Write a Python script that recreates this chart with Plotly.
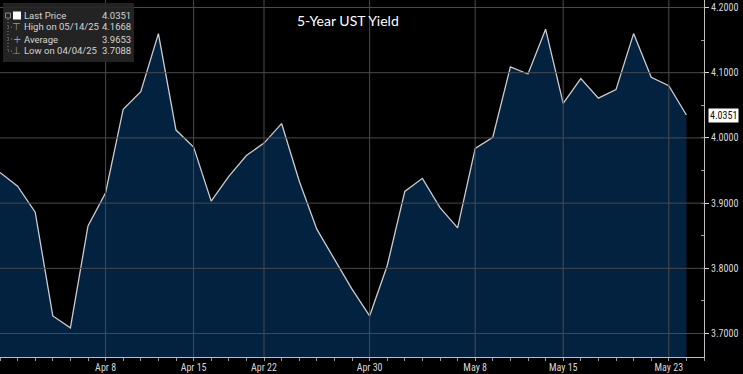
import plotly.graph_objects as go

# ---- data ----
dates = [
    "2025-03-31", "2025-04-01", "2025-04-02", "2025-04-03", "2025-04-04",
    "2025-04-07", "2025-04-08", "2025-04-09", "2025-04-10", "2025-04-11",
    "2025-04-14", "2025-04-15", "2025-04-16", "2025-04-17", "2025-04-21",
    "2025-04-22", "2025-04-23", "2025-04-24", "2025-04-25", "2025-04-28",
    "2025-04-29", "2025-04-30", "2025-05-01", "2025-05-02", "2025-05-05",
    "2025-05-06", "2025-05-07", "2025-05-08", "2025-05-09", "2025-05-12",
    "2025-05-13", "2025-05-14", "2025-05-15", "2025-05-16", "2025-05-19",
    "2025-05-20", "2025-05-21", "2025-05-22", "2025-05-23", "2025-05-27",
]
yields = [
    3.947, 3.926, 3.886, 3.727, 3.7088,
    3.865, 3.916, 4.044, 4.071, 4.160,
    4.012, 3.986, 3.903, 3.941, 3.973,
    3.992, 4.022, 3.934, 3.860, 3.814,
    3.768, 3.727, 3.804, 3.918, 3.938,
    3.893, 3.862, 3.984, 4.001, 4.109,
    4.098, 4.1668, 4.053, 4.091, 4.061,
    4.074, 4.160, 4.093, 4.080, 4.0351,
]
tick_dates = ["2025-04-08", "2025-04-15", "2025-04-22", "2025-04-30",
              "2025-05-08", "2025-05-15", "2025-05-23"]
tick_labels = ["Apr 8", "Apr 15", "Apr 22", "Apr 30", "May 8", "May 15", "May 23"]
y_ticks = [3.7, 3.8, 3.9, 4.0, 4.1, 4.2]

legend_labels = ["Last Price", "High on 05/14/25", "Average", "Low on 04/04/25"]
legend_values = ["4.0351", "4.1668", "3.9653", "3.7088"]
last_price = 4.0351
title_text = "5-Year UST Yield"

# ---- figure ----
W, H = 743, 374
ML, MR, MT, MB = 0, 39, 0, 17
PW, PH = W - ML - MR, H - MT - MB
X_RANGE = [0, 40]
Y_RANGE = [3.664, 4.2115]

x_idx = list(range(len(dates)))
tick_idx = [dates.index(d) for d in tick_dates]

fig = go.Figure()
fig.add_trace(go.Scatter(
    x=x_idx, y=yields, mode="lines",
    line=dict(color="#c9ccd1", width=1.3),
    fill="tozeroy", fillcolor="#03223f",
    hoverinfo="skip", showlegend=False,
))

tick_font = dict(family="Liberation Sans Narrow, Roboto Condensed, Arial Narrow, Roboto", size=10, color="#d8d8d8")

fig.update_layout(
    width=W, height=H,
    margin=dict(l=ML, r=MR, t=MT, b=MB),
    paper_bgcolor="#000000", plot_bgcolor="#000000",
    showlegend=False,
    xaxis=dict(
        range=X_RANGE, showline=True, linecolor="#bfbfbf", linewidth=1,
        tickvals=tick_idx, ticktext=tick_labels, tickfont=tick_font,
        ticks="outside", ticklen=1, tickcolor="#9a9a9a",
        minor=dict(dtick=1, tick0=0, ticks="outside", ticklen=3, tickcolor="#9a9a9a", showgrid=False),
        showgrid=False, zeroline=False, fixedrange=True, automargin=False,
    ),
    yaxis=dict(
        side="right", range=Y_RANGE, showline=True, linecolor="#bfbfbf", linewidth=1,
        tickvals=y_ticks, tickformat=".4f", tickfont=tick_font,
        ticks="outside", ticklen=4, tickcolor="#d8d8d8",
        minor=dict(dtick=0.05, tick0=3.65, ticks="inside", ticklen=3, tickcolor="#9a9a9a", showgrid=False),
        showgrid=False, zeroline=False, fixedrange=True, automargin=False,
    ),
)

# grid lines drawn above the filled area, as in the reference
GRID = dict(color="#4a4a4a", width=1, dash="solid")
for yv in y_ticks:
    fig.add_shape(type="line", xref="paper", yref="y", x0=0, x1=1, y0=yv, y1=yv,
                  line=GRID, layer="above")
for xv in tick_idx:
    fig.add_shape(type="line", xref="x", yref="paper", x0=xv, x1=xv, y0=0, y1=1,
                  line=GRID, layer="above")

def px_x(p):
    return (p - ML) / PW

def px_y(p):
    return 1 - (p - MT) / PH

# title
fig.add_annotation(
    text=title_text, xref="paper", yref="paper",
    x=px_x(348), y=px_y(20), xanchor="center", yanchor="middle",
    showarrow=False, font=dict(family="Lato, Open Sans, sans-serif", size=14, color="#ffffff"),
)

# legend box
fig.add_shape(type="rect", xref="paper", yref="paper",
              x0=px_x(3), x1=px_x(134), y0=px_y(3), y1=px_y(62),
              fillcolor="rgba(38,38,38,0.92)", line=dict(width=0), layer="above")
row_y = [15.5, 27.0, 39.0, 51.0]
legend_font = dict(family="Roboto, Arial, sans-serif", size=9.5, color="#d4d4d4")
icons = ["", "\u22a4", "+", "\u22a5"]
for i, (lab, val) in enumerate(zip(legend_labels, legend_values)):
    fig.add_annotation(text=lab, xref="paper", yref="paper", x=px_x(22), y=px_y(row_y[i]),
                       xanchor="left", yanchor="middle", showarrow=False, font=legend_font)
    fig.add_annotation(text=val, xref="paper", yref="paper", x=px_x(133), y=px_y(row_y[i]),
                       xanchor="right", yanchor="middle", showarrow=False, font=legend_font)
    if icons[i]:
        fig.add_annotation(text=icons[i], xref="paper", yref="paper", x=px_x(16.5), y=px_y(row_y[i]),
                           xanchor="center", yanchor="middle", showarrow=False,
                           font=dict(family="DejaVu Sans", size=10, color="#9a9a9a"))
# white square for last price
fig.add_shape(type="rect", xref="paper", yref="paper",
              x0=px_x(13), x1=px_x(21), y0=px_y(11.5), y1=px_y(19.5),
              fillcolor="#ffffff", line=dict(width=0), layer="above")
# tree connectors
TREE = dict(color="#8a8a8a", width=1, dash="1px,2px")
fig.add_shape(type="line", xref="paper", yref="paper",
              x0=px_x(8), x1=px_x(8), y0=px_y(19), y1=px_y(51),
              line=TREE, layer="above")
for ry in row_y[1:]:
    fig.add_shape(type="line", xref="paper", yref="paper",
                  x0=px_x(8), x1=px_x(12), y0=px_y(ry), y1=px_y(ry),
                  line=TREE, layer="above")
fig.add_shape(type="rect", xref="paper", yref="paper",
              x0=px_x(5.5), x1=px_x(10.5), y0=px_y(13), y1=px_y(18),
              fillcolor="rgba(0,0,0,0)", line=dict(color="#888888", width=1), layer="above")

# last price tag on the right axis
fig.add_annotation(
    text=f"{last_price:.4f}", xref="paper", yref="y", x=1, y=last_price,
    xanchor="left", yanchor="middle", xshift=4, showarrow=False,
    bgcolor="#ffffff", borderpad=1,
    font=dict(family="Liberation Sans Narrow, Roboto Condensed, Arial Narrow, Roboto", size=10, color="#111111"),
)

fig.write_html(
    "out.html",
    config={"displayModeBar": False},
    post_script="document.body.style.margin='0';document.body.style.background='#000';",
)
